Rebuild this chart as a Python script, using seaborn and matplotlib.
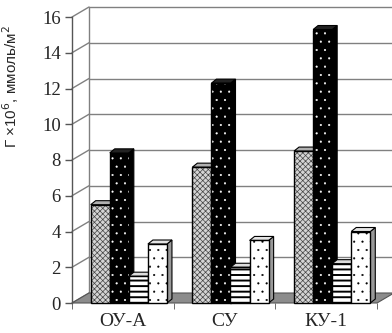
import matplotlib
matplotlib.use("Agg")
import matplotlib.pyplot as plt
from matplotlib.patches import Polygon, Rectangle
import pandas as pd
import seaborn as sns

categories = ["ОУ-А", "СУ", "КУ-1"]
series = ["s1", "s2", "s3", "s4"]
s1 = [5.5, 7.6, 8.5]
s2 = [8.4, 12.3, 15.3]
s3 = [1.5, 2.0, 2.2]
s4 = [3.3, 3.5, 4.0]
yticks = [0, 2, 4, 6, 8, 10, 12, 14, 16]
ylabel = "Г ×10$^{6}$, ммоль/м$^{2}$"

df = pd.DataFrame({
    "cat": categories * 4,
    "ser": [s for s in series for _ in categories],
    "val": s1 + s2 + s3 + s4,
})

sns.set_style("white")
plt.rcParams["hatch.linewidth"] = 1.3

fig = plt.figure(figsize=(3.92, 3.33), dpi=100)
ax = fig.add_axes([72 / 392, 30 / 333, 305 / 392, 286 / 333])

# fill / hatch colour / hatch / hatch lw / side / top
styles = {
    "s1": ("#d4d4d4", "#444444", "xxxxxx", 0.5, "#8a8a8a", "#b0b0b0"),
    "s2": ("black", "white", "..", 0.3, "black", "#222222"),
    "s3": ("white", "black", "---", 1.4, "#777777", "#dddddd"),
    "s4": ("white", "black", "..", 0.3, "#999999", "#e4e4e4"),
}

sns.barplot(data=df, x="cat", y="val", hue="ser", order=categories,
            hue_order=series, width=0.75, gap=0, ax=ax, legend=False)

ax.set_xlim(-0.5, 2.5)
ax.set_ylim(0, 16)

# pixel -> data scale
sx = 305 / 3.0
sy = 286 / 16.0
wdx, wdy = 17 / sx, 10 / sy   # wall depth
bdx, bdy = 5 / sx, 4 / sy     # bar depth
shift = 6 / sx

# back wall, left wall, floor
grid_c = "#808080"
for y in yticks[1:]:
    ax.plot([-0.5 + wdx, 2.5 + wdx], [y + wdy, y + wdy], color=grid_c,
            lw=1, clip_on=False, zorder=0.5)
for y in yticks:
    ax.plot([-0.5, -0.5 + wdx], [y, y + wdy], color=grid_c, lw=1,
            clip_on=False, zorder=0.5)
ax.plot([-0.5 + wdx, -0.5 + wdx], [wdy, 16 + wdy], color=grid_c, lw=1,
        clip_on=False, zorder=0.5)
ax.add_patch(Polygon([(-0.5, 0), (2.5, 0), (2.5 + wdx, wdy), (-0.5 + wdx, wdy)],
                     closed=True, facecolor="#8c8c8c", edgecolor="#555555",
                     lw=0.8, clip_on=False, zorder=0.8))

n = len(categories)
for i, p in enumerate(ax.patches[:4 * n]):
    ser = series[i // n]
    fc, hc, hatch, hlw, side_c, top_c = styles[ser]
    z = 2 + (i // n) * 0.1
    p.set_x(p.get_x() + shift)
    p.set_facecolor(fc)
    p.set_edgecolor(hc)
    p.set_hatch(hatch)
    if hasattr(p, "set_hatch_linewidth"):
        p.set_hatch_linewidth(hlw)
    p.set_linewidth(0)
    p.set_zorder(z)
    x0, y0 = p.get_x(), p.get_y()
    x1, y1 = x0 + p.get_width(), y0 + p.get_height()
    side = Polygon([(x1, y0), (x1, y1), (x1 + bdx, y1 + bdy), (x1 + bdx, y0 + bdy)],
                   closed=True, facecolor=side_c, edgecolor="black", lw=0.8,
                   zorder=z - 0.01, clip_on=False)
    top = Polygon([(x0, y1), (x1, y1), (x1 + bdx, y1 + bdy), (x0 + bdx, y1 + bdy)],
                  closed=True, facecolor=top_c, edgecolor="black", lw=0.8,
                  zorder=z - 0.01, clip_on=False)
    ax.add_patch(side)
    ax.add_patch(top)
    ax.add_patch(Rectangle((x0, y0), p.get_width(), p.get_height(), fill=False,
                           edgecolor="black", lw=1.0, zorder=z + 0.01,
                           clip_on=False))

for s in ["top", "right", "bottom"]:
    ax.spines[s].set_visible(False)
ax.spines["left"].set_color("#555555")
ax.spines["left"].set_linewidth(1)
ax.set_facecolor("none")

ax.set_yticks(yticks)
ax.set_yticklabels([str(v) for v in yticks], fontfamily="Liberation Serif",
                   fontsize=13.5)
ax.tick_params(axis="y", direction="out", length=5, width=1, color="#555555",
               pad=3, left=True)
ax.set_xticks(range(n))
ax.set_xticklabels(categories, fontfamily="Liberation Serif", fontsize=14)
ax.set_xticks([-0.5, 0.5, 1.5, 2.5], minor=True)
ax.tick_params(axis="x", which="major", length=0, pad=7)
ax.tick_params(axis="x", which="minor", direction="out", length=4,
               color="#555555", bottom=True)
ax.set_xlabel("")
ax.set_ylabel("")

fig.text(11 / 392, (333 - 148) / 333, ylabel, rotation=90, ha="center",
         va="bottom", fontfamily="Liberation Sans", fontsize=11)

fig.savefig("out.png", dpi=100)
